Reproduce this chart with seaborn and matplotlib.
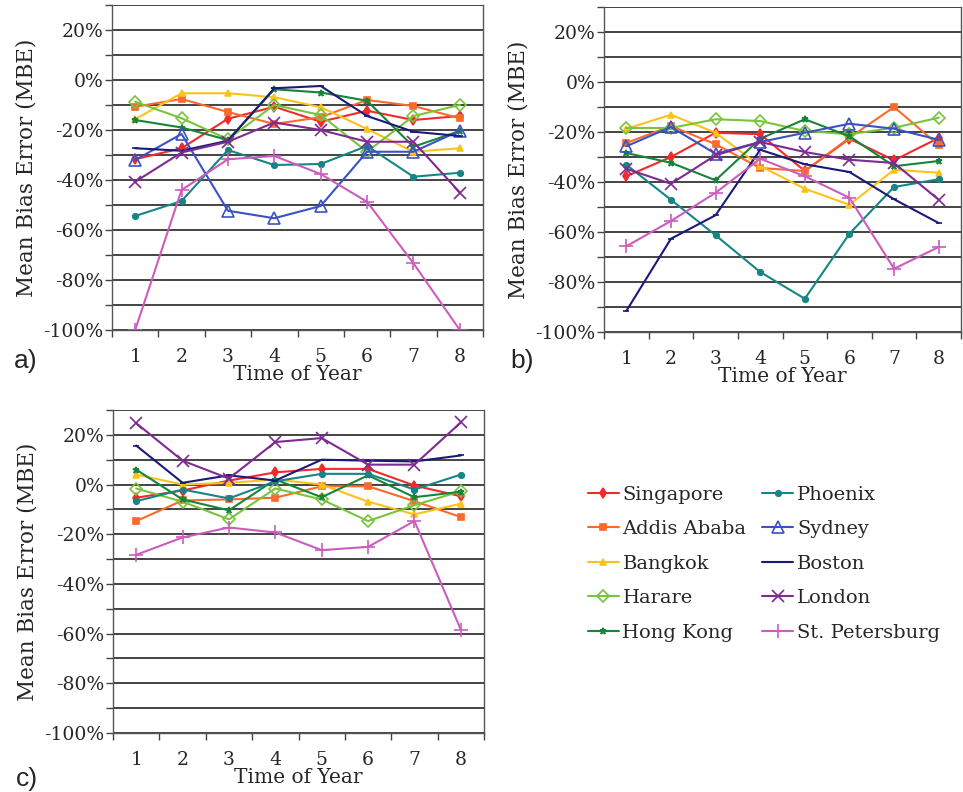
import matplotlib
matplotlib.use("Agg")
from matplotlib import pyplot as plt
from matplotlib.ticker import FixedLocator, MultipleLocator, NullFormatter
import numpy as np
import pandas as pd
import seaborn as sns

months = [1, 2, 3, 4, 5, 6, 7, 8]
cities = ['Singapore', 'Addis Ababa', 'Bangkok', 'Harare', 'Hong Kong',
          'Phoenix', 'Sydney', 'Boston', 'London', 'St. Petersburg']

# panel a) MBE in %
a_singapore = [-31.7, -27.3, -15.5, -10.7, -16.7, -12.3, -16.0, -14.4]
a_addis = [-10.7, -7.6, -12.8, -17.6, -14.9, -8.0, -10.4, -15.3]
a_bangkok = [-15.7, -5.3, -5.3, -6.9, -10.9, -19.6, -28.7, -27.3]
a_harare = [-8.7, -15.3, -23.7, -10.0, -14.0, -28.7, -14.4, -10.0]
a_hongkong = [-16.0, -19.0, -24.0, -3.7, -5.0, -8.3, -26.7, -20.4]
a_phoenix = [-54.4, -48.4, -28.0, -34.0, -33.6, -26.4, -38.7, -37.1]
a_sydney = [-32.0, -21.6, -52.3, -55.3, -50.4, -28.7, -28.7, -20.3]
a_boston = [-27.3, -28.3, -24.3, -3.3, -2.4, -14.4, -20.7, -22.4]
a_london = [-40.7, -29.0, -24.7, -17.0, -20.0, -24.7, -24.7, -45.0]
a_stpete = [-100.0, -44.0, -31.7, -30.4, -37.6, -48.7, -73.3, -100.0]

# panel b)
b_singapore = [-37.7, -30.0, -20.3, -20.9, -35.6, -22.7, -31.3, -22.4]
b_addis = [-24.4, -17.6, -24.9, -34.4, -35.6, -22.3, -10.0, -25.3]
b_bangkok = [-18.7, -13.1, -20.3, -33.6, -42.7, -49.1, -35.1, -36.3]
b_harare = [-18.4, -18.4, -14.9, -15.6, -19.6, -20.9, -18.3, -14.3]
b_hongkong = [-28.4, -32.3, -39.3, -22.7, -14.9, -21.7, -33.7, -31.6]
b_phoenix = [-33.1, -47.1, -61.3, -76.0, -86.7, -60.7, -42.0, -38.9]
b_sydney = [-25.7, -18.0, -28.7, -24.0, -20.3, -16.7, -18.7, -23.1]
b_boston = [-91.6, -62.7, -53.3, -27.1, -32.9, -36.0, -46.9, -56.4]
b_london = [-34.7, -40.7, -29.3, -24.0, -28.0, -31.1, -32.4, -47.1]
b_stpete = [-65.7, -55.6, -44.3, -30.7, -37.7, -46.3, -74.7, -66.0]

# panel c) (no Sydney series)
c_singapore = [-5.3, -2.4, 1.6, 4.9, 6.3, 6.3, -0.4, -4.7]
c_addis = [-14.7, -6.4, -6.0, -5.3, -0.7, -0.7, -6.7, -13.1]
c_bangkok = [4.0, 0.0, 0.7, 2.0, 0.0, -6.9, -12.0, -7.7]
c_harare = [-1.6, -6.9, -14.0, -1.6, -6.0, -14.7, -8.3, -2.7]
c_hongkong = [6.0, -6.0, -10.4, 2.0, -5.1, 3.7, -5.1, -2.9]
c_phoenix = [-6.7, -2.0, -5.6, 1.3, 4.3, 4.3, -2.0, 4.0]
c_boston = [15.7, 0.7, 3.7, 1.6, 10.0, 9.6, 9.3, 11.7]
c_london = [24.7, 9.6, 2.4, 17.1, 18.7, 8.0, 8.0, 25.0]
c_stpete = [-28.3, -21.3, -17.3, -19.3, -26.4, -25.1, -14.7, -58.4]

panels = {
    'a': dict(zip(cities, [a_singapore, a_addis, a_bangkok, a_harare, a_hongkong,
                           a_phoenix, a_sydney, a_boston, a_london, a_stpete])),
    'b': dict(zip(cities, [b_singapore, b_addis, b_bangkok, b_harare, b_hongkong,
                           b_phoenix, b_sydney, b_boston, b_london, b_stpete])),
    'c': {'Singapore': c_singapore, 'Addis Ababa': c_addis, 'Bangkok': c_bangkok,
          'Harare': c_harare, 'Hong Kong': c_hongkong, 'Phoenix': c_phoenix,
          'Boston': c_boston, 'London': c_london, 'St. Petersburg': c_stpete},
}

styles = {
    'Singapore': dict(color='#f42a2a', marker='d', ms=5, mfc='#f42a2a'),
    'Addis Ababa': dict(color='#fb6a2c', marker='s', ms=5, mfc='#fb6a2c'),
    'Bangkok': dict(color='#fcc21c', marker='^', ms=5, mfc='#fcc21c'),
    'Harare': dict(color='#78c43c', marker='D', ms=6, mfc='none'),
    'Hong Kong': dict(color='#18843a', marker='*', ms=5, mfc='#18843a'),
    'Phoenix': dict(color='#178585', marker='o', ms=4, mfc='#178585'),
    'Sydney': dict(color='#3a52c4', marker='^', ms=8, mfc='none'),
    'Boston': dict(color='#1a1a78', marker='_', ms=5, mfc='#1a1a78'),
    'London': dict(color='#7e2a92', marker='x', ms=8, mfc='#7e2a92'),
    'St. Petersburg': dict(color='#cc5cbd', marker='+', ms=10, mfc='#cc5cbd'),
}

sns.set_style('white')
plt.rcParams['font.family'] = ['DejaVu Serif']
plt.rcParams['font.size'] = 12

fig = plt.figure(figsize=(9.63, 7.92), dpi=100)
W, H = 963.0, 792.0
boxes = {'a': (112, 483, 5, 330), 'b': (604, 961, 7, 332), 'c': (113, 484, 410, 733)}
labels_pos = {'a': (14, 368), 'b': (510, 368), 'c': (16, 786)}

for key, (l, r, t, b) in boxes.items():
    ax = fig.add_axes([l / W, 1 - b / H, (r - l) / W, (b - t) / H])
    for city, vals in panels[key].items():
        st = styles[city]
        sns.lineplot(x=months, y=vals, ax=ax, label=city, color=st['color'],
                     marker=st['marker'], markersize=st['ms'],
                     markerfacecolor=st['mfc'], markeredgecolor=st['color'],
                     markeredgewidth=1.2, linewidth=1.5)
    ax.set_xlim(0.5, 8.5)
    ax.set_ylim(-100, 30)
    ax.set_xticks(months)
    ax.xaxis.set_minor_locator(FixedLocator(np.arange(0.5, 9.0, 1.0)))
    ax.tick_params(axis='x', which='major', length=0, labelsize=13.5, pad=13)
    ax.tick_params(axis='x', which='minor', length=5, width=1, color='#444444',
                   direction='out', bottom=True)
    ax.set_yticks(np.arange(-100, 21, 20))
    ax.set_yticklabels(['%d%%' % v for v in np.arange(-100, 21, 20)])
    ax.yaxis.set_minor_locator(MultipleLocator(10))
    ax.yaxis.set_minor_formatter(NullFormatter())
    ax.tick_params(axis='y', which='both', length=5, width=1, color='#444444',
                   direction='out', left=True, labelsize=13.5, pad=1)
    ax.grid(True, axis='y', which='both', color='#111111', linewidth=1.1)
    ax.set_axisbelow(True)
    for side in ['left', 'bottom', 'right']:
        ax.spines[side].set_color('#555555')
        ax.spines[side].set_linewidth(1.0)
    ax.spines['top'].set_visible(False)
    ax.set_xlabel('Time of Year', fontsize=14.5, labelpad=-1)
    ax.set_ylabel('Mean Bias Error (MBE)', fontsize=15.5, labelpad=4)
    if key == 'a':
        handles, names = ax.get_legend_handles_labels()
    ax.get_legend().remove()
    lx, ly = labels_pos[key]
    fig.text(lx / W, 1 - ly / H, key + ')', fontsize=19,
             family=['Liberation Sans', 'DejaVu Sans'])

fig.legend(handles, names, loc='upper left', bbox_to_anchor=(570 / W, 1 - 468 / H),
           ncol=2, frameon=False, fontsize=14, handlelength=1.6,
           handletextpad=0.2, labelspacing=0.85, columnspacing=0.8)

fig.savefig('out.png', dpi=100)
